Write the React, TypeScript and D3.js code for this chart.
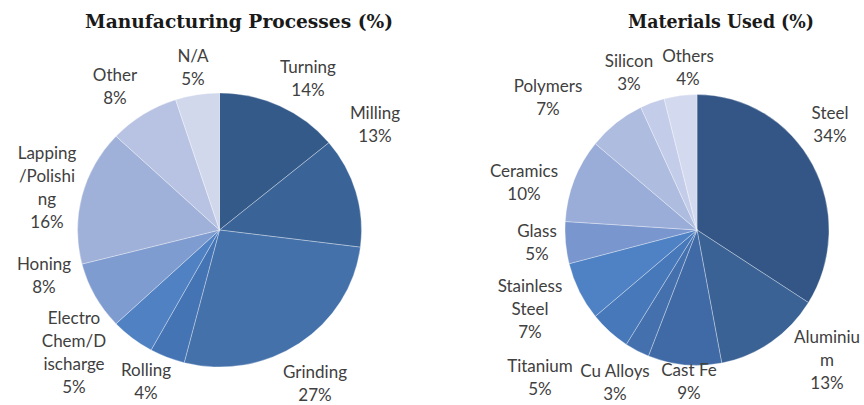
import React from "react";
import * as d3 from "d3";

const processNames = ["Turning", "Milling", "Grinding", "Rolling", "Electro Chem/Discharge", "Honing", "Lapping/Polishing", "Other", "N/A"];
const processValues = [14, 13, 27, 4, 5, 8, 16, 8, 5];
const processLabelLines = [["Turning"], ["Milling"], ["Grinding"], ["Rolling"], ["Electro", "Chem/D", "ischarge"], ["Honing"], ["Lapping", "/Polishi", "ng"], ["Other"], ["N/A"]];
const processColors = ["#345a8a", "#3a6497", "#4571ab", "#4474b4", "#4f81c3", "#7f9cd0", "#a0b1d9", "#b8c3e3", "#d2d8ec"];

const materialNames = ["Steel", "Aluminium", "Cast Fe", "Cu Alloys", "Titanium", "Stainless Steel", "Glass", "Ceramics", "Polymers", "Silicon", "Others"];
const materialValues = [34, 13, 9, 3, 5, 7, 5, 10, 7, 3, 4];
const materialLabelLines = [["Steel"], ["Aluminiu", "m"], ["Cast Fe"], ["Cu Alloys"], ["Titanium"], ["Stainless", "Steel"], ["Glass"], ["Ceramics"], ["Polymers"], ["Silicon"], ["Others"]];
const materialColors = ["#345686", "#3a6295", "#3f6aa5", "#4470ae", "#4778ba", "#4f82c4", "#7997ce", "#9aadd8", "#aebce0", "#c3cce8", "#d3d9ee"];

// label anchors: [centerX, first baseline]
const processLabelPos = [[308, 73], [375, 119], [315, 378], [146, 376], [74, 324], [44, 270], [47, 159], [115, 81], [193, 62]];
const materialLabelPos = [[830, 119], [827, 343], [689, 376], [615, 377], [540, 372], [530, 292], [537, 237], [524, 177], [548, 92], [629, 67], [688, 62]];

type PieSpec = {
  title: string;
  titleX: number;
  titleW: number;
  cx: number;
  cy: number;
  rx: number;
  ry: number;
  values: number[];
  names: string[];
  lines: string[][];
  colors: string[];
  labelPos: number[][];
};

const LINE_H = 23;

function Pie({ spec }: { spec: PieSpec }) {
  const pie = d3.pie<number>().sort(null).value((d) => d);
  const arcs = pie(spec.values);
  const arc = d3.arc<d3.PieArcDatum<number>>().innerRadius(0).outerRadius(spec.ry);
  const total = d3.sum(spec.values);
  return (
    <g>
      <text
        x={spec.titleX}
        y={28}
        textAnchor="middle"
        fontFamily="'DejaVu Serif', serif"
        fontWeight="bold"
        fontSize={18}
        fill="#1a1a1a"
        textLength={spec.titleW}
        lengthAdjust="spacingAndGlyphs"
      >
        {spec.title}
      </text>
      <g transform={`translate(${spec.cx},${spec.cy}) scale(${spec.rx / spec.ry},1)`}>
        {arcs.map((a, i) => (
          <path
            key={spec.names[i]}
            d={arc(a) || ""}
            fill={spec.colors[i]}
            stroke="#ffffff"
            strokeOpacity={0.4}
            strokeWidth={0.8}
            vectorEffect="non-scaling-stroke"
          />
        ))}
      </g>
      {arcs.map((a, i) => {
        const [lx, ly] = spec.labelPos[i];
        const pct = Math.round((a.value / total) * 100) + "%";
        const all = [...spec.lines[i], pct];
        return (
          <text
            key={"l" + i}
            x={lx}
            y={ly}
            textAnchor="middle"
            fontFamily="Lato, 'Open Sans', sans-serif"
            fontSize={17}
            fill="#404040"
          >
            {all.map((t, j) => (
              <tspan key={j} x={lx} y={ly + j * LINE_H}>
                {t}
              </tspan>
            ))}
          </text>
        );
      })}
    </g>
  );
}

export default function App() {
  const left: PieSpec = {
    title: "Manufacturing Processes  (%)",
    titleX: 239,
    titleW: 308,
    cx: 219.5,
    cy: 230,
    rx: 142,
    ry: 137,
    values: processValues,
    names: processNames,
    lines: processLabelLines,
    colors: processColors,
    labelPos: processLabelPos,
  };
  const right: PieSpec = {
    title: "Materials Used (%)",
    titleX: 721,
    titleW: 186,
    cx: 697,
    cy: 230,
    rx: 132,
    ry: 135.5,
    values: materialValues,
    names: materialNames,
    lines: materialLabelLines,
    colors: materialColors,
    labelPos: materialLabelPos,
  };
  return (
    <svg width={864} height={405} style={{ position: "absolute", left: 0, top: 0, background: "#fff" }}>
      <Pie spec={left} />
      <Pie spec={right} />
    </svg>
  );
}
